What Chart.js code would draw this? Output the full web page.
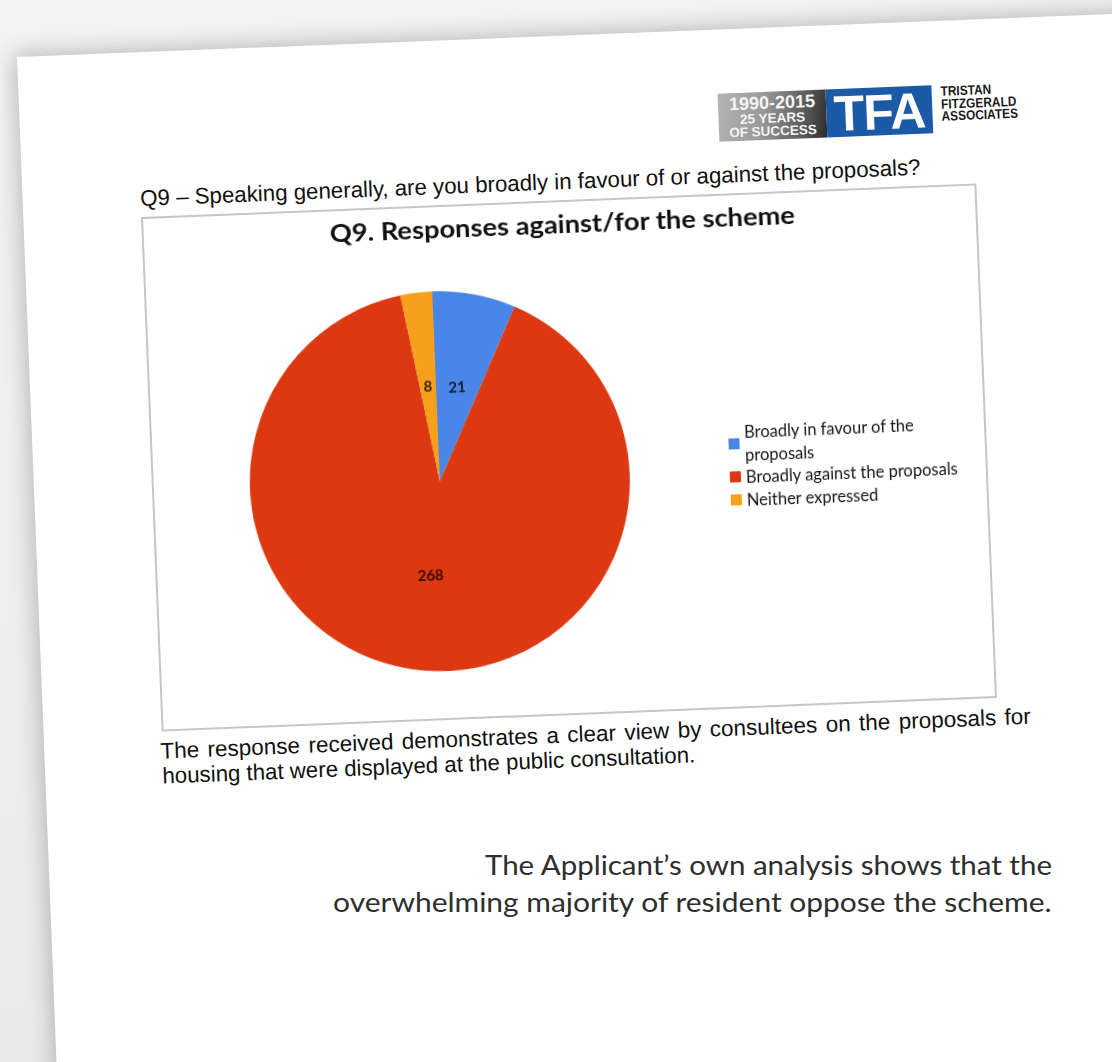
<!DOCTYPE html>
<html>
<head>
<meta charset="utf-8">
<script src="https://cdn.jsdelivr.net/npm/chart.js@4.4.1/dist/chart.umd.min.js"></script>
<style>
html,body{margin:0;padding:0;}
body{width:1112px;height:1062px;overflow:hidden;position:relative;background:linear-gradient(#f3f3f3,#eaeaea);font-family:"Liberation Sans",Arial,sans-serif;}
#sheet{position:absolute;left:17px;top:57px;width:1300px;height:1200px;background:#fff;transform-origin:0 0;transform:rotate(-2.25deg);box-shadow:-3px -3px 22px rgba(0,0,0,0.24);}
#doc{position:absolute;left:141px;top:217px;width:836px;height:515px;transform-origin:0 0;transform:rotate(-2.3deg);}
#box{position:absolute;left:0;top:0;width:836px;height:515px;box-sizing:border-box;border:2px solid #c6c6c6;}
#chart{position:absolute;left:0;top:0;}
.fit{position:absolute;white-space:nowrap;display:inline-block;}
#q{left:0;top:-32px;font-size:22.5px;line-height:28px;color:#111;transform-origin:0 50%;}
#title{top:9px;font-family:Lato,"Open Sans",sans-serif;font-weight:bold;font-size:24px;line-height:30px;color:#111;transform-origin:50% 50%;}
#legend{position:absolute;left:578px;top:228px;font-family:Lato,"Open Sans",sans-serif;font-size:16.5px;line-height:22.5px;color:#151515;}
.li{position:relative;padding-left:16px;width:260px;}
.sw{position:absolute;left:0;top:50%;width:11px;height:11px;margin-top:-6px;}
#p1{position:absolute;left:-2px;top:522px;width:871px;font-size:22.5px;line-height:26px;color:#111;text-align:justify;text-align-last:justify;white-space:nowrap;}
#p2{left:-1px;top:547px;font-size:22.5px;line-height:26px;color:#111;transform-origin:0 50%;}
#logo{position:absolute;left:581px;top:-100px;width:214px;height:48px;}
#gray{position:absolute;left:0;top:0;width:108px;height:48px;background:linear-gradient(100deg,#b4b4b4 0%,#9a9a9a 40%,#5a5a5a 78%,#2c2c2c 100%);color:#f4f4f4;font-weight:bold;text-align:center;}
#gray div{white-space:nowrap;}
#blue{position:absolute;left:108px;top:0;width:106px;height:48px;background:#1b5aa7;color:#fff;font-weight:bold;font-size:50px;line-height:50px;text-align:center;letter-spacing:-1px;}
#firm{position:absolute;left:223px;top:1px;font-weight:bold;font-size:13.5px;line-height:12.5px;color:#1a1a1a;transform:scaleX(0.88);transform-origin:0 0;}
#note{position:absolute;right:60px;top:847px;text-align:right;font-family:Lato,"Open Sans",sans-serif;font-weight:400;font-size:26px;line-height:37px;color:#2e2e2e;}
#note div{white-space:nowrap;display:block;}
#note span{display:inline-block;transform-origin:100% 50%;}
</style>
</head>
<body>
<div id="sheet"></div>
<div id="doc">
  <div id="logo">
    <div id="gray">
      <div style="font-size:18px;line-height:18px;padding-top:2px;">1990-2015</div>
      <div style="font-size:13.5px;line-height:13px;">25 YEARS</div>
      <div style="font-size:13.5px;line-height:13px;">OF SUCCESS</div>
    </div>
    <div id="blue">TFA</div>
    <div id="firm">TRISTAN<br>FITZGERALD<br>ASSOCIATES</div>
  </div>
  <span class="fit" id="q">Q9 – Speaking generally, are you broadly in favour of or against the proposals?</span>
  <div id="box"></div>
  <canvas id="chart" width="836" height="515"></canvas>
  <span class="fit" id="title">Q9. Responses against/for the scheme</span>
  <div id="legend"></div>
  <div id="p1">The response received demonstrates a clear view by consultees on the proposals for</div>
  <span class="fit" id="p2">housing that were displayed at the public consultation.</span>
</div>
<div id="note">
  <div><span id="n1">The Applicant’s own analysis shows that the</span></div>
  <div><span id="n2">overwhelming majority of resident oppose the scheme.</span></div>
</div>
<script>
// ---- data ----
const categories = ['Broadly in favour of the proposals', 'Broadly against the proposals', 'Neither expressed'];
const responses = [21, 268, 8];
const chartTitle = 'Q9. Responses against/for the scheme';

// ---- styles ----
const sliceColors = ['#4a86e8', '#dc3912', '#f7a01c'];

const sliceLabels = {
  id: 'sliceLabels',
  afterDatasetsDraw(chart) {
    const ctx = chart.ctx;
    const meta = chart.getDatasetMeta(0);
    const vals = chart.data.datasets[0].data;
    meta.data.forEach((arc, i) => {
      const p = arc.tooltipPosition();
      ctx.save();
      ctx.font = 'bold 15px Lato, "Open Sans", sans-serif';
      ctx.fillStyle = 'rgba(0,0,0,0.78)';
      ctx.textAlign = 'center';
      ctx.textBaseline = 'middle';
      ctx.fillText(String(vals[i]), p.x, p.y);
      ctx.restore();
    });
  }
};

new Chart(document.getElementById('chart'), {
  type: 'pie',
  data: {
    labels: categories,
    datasets: [{ data: responses, backgroundColor: sliceColors, borderWidth: 0 }]
  },
  options: {
    responsive: false,
    animation: false,
    layout: { padding: { left: 98, right: 358, top: 86, bottom: 49 } },
    plugins: { legend: { display: false }, title: { display: false }, tooltip: { enabled: false } }
  },
  plugins: [sliceLabels]
});

// HTML legend from the same arrays
const lg = document.getElementById('legend');
categories.forEach((c, i) => {
  const d = document.createElement('div');
  d.className = 'li';
  d.innerHTML = '<span class="sw" style="background:' + sliceColors[i] + '"></span>' + c;
  if (i === 0) d.style.width = '200px';
  lg.appendChild(d);
});

function fitX(id, w) {
  const el = document.getElementById(id);
  el.style.transform = 'none';
  const ow = el.offsetWidth;
  el.style.transform = 'scaleX(' + (w / ow) + ')';
}
function fitTitle() {
  const el = document.getElementById('title');
  el.style.transform = 'none';
  const ow = el.offsetWidth;
  el.style.left = (420 - ow / 2) + 'px';
  el.style.transform = 'scaleX(' + (465 / ow) + ')';
}
function doFit() {
  fitX('q', 781);
  fitX('p2', 533);
  fitX('n1', 567);
  fitX('n2', 719);
  fitTitle();
}
doFit();
if (document.fonts && document.fonts.ready) document.fonts.ready.then(doFit);
</script>
</body>
</html>
